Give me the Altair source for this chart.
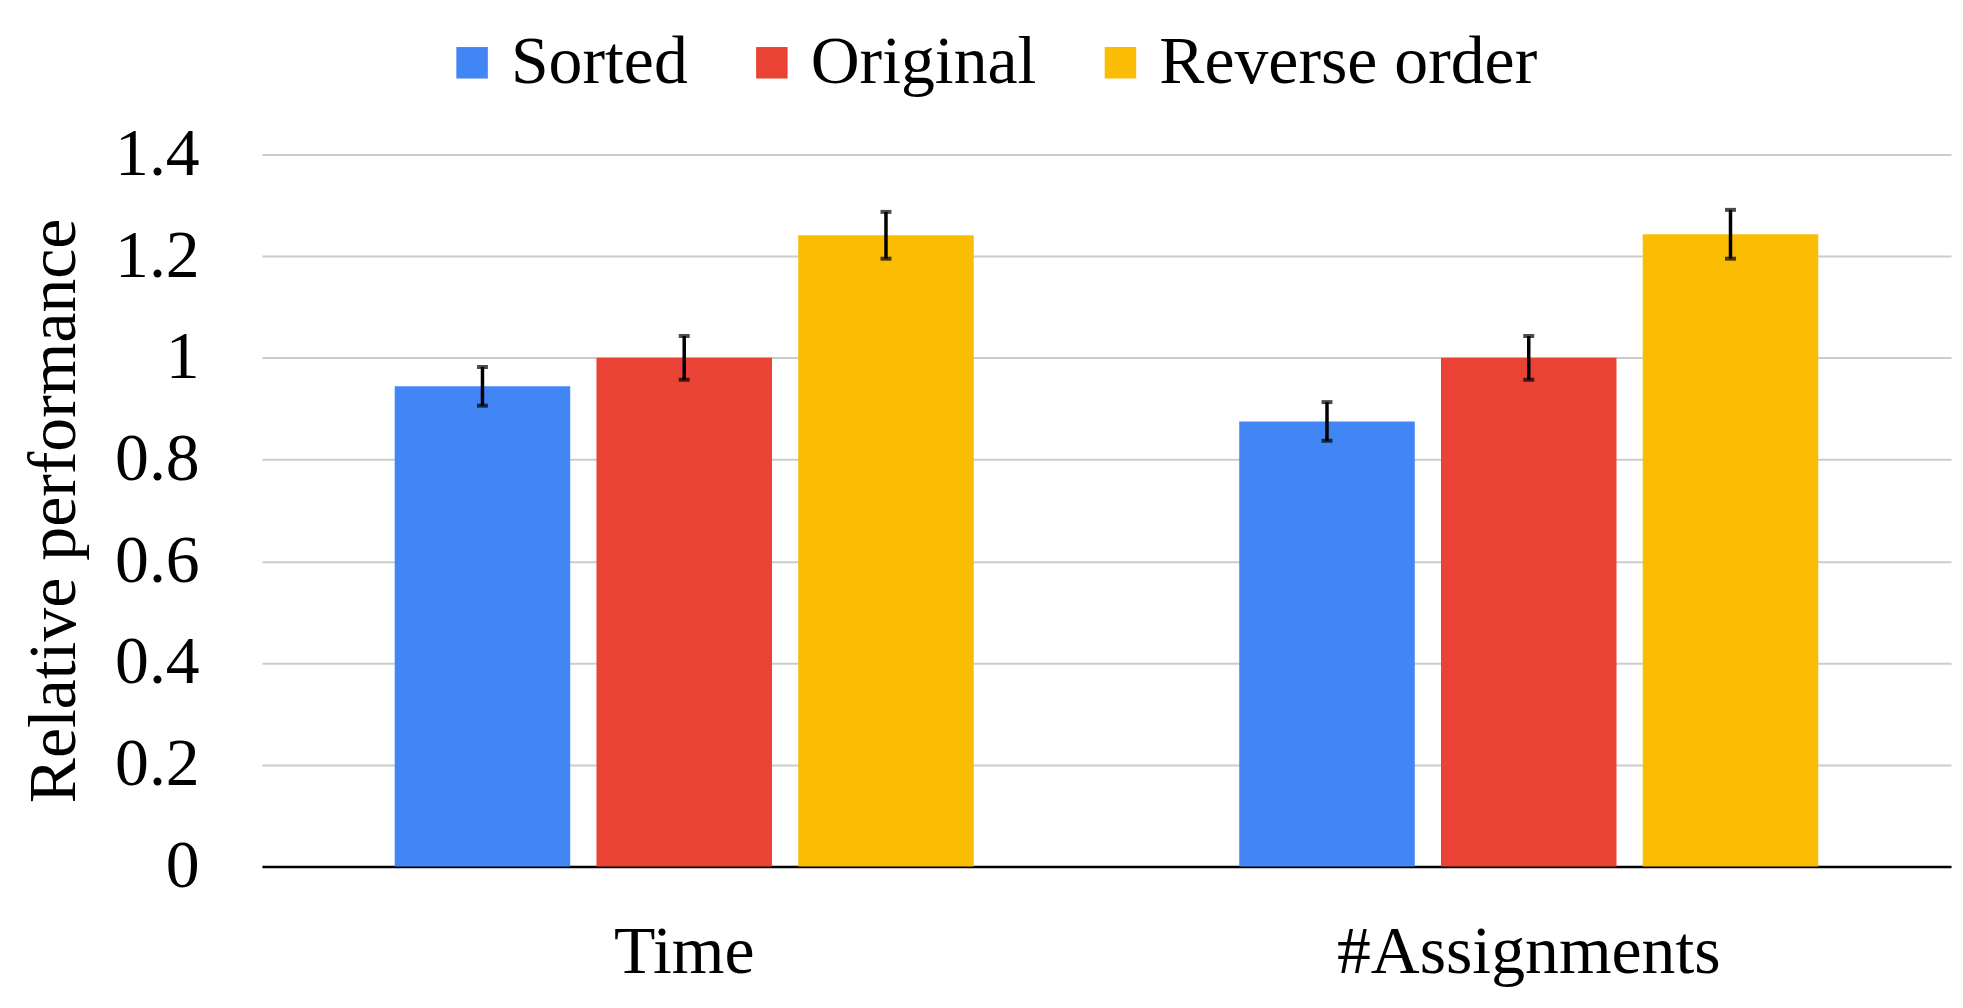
import altair as alt
import pandas as pd

categories = ["Time", "#Assignments"]
series = ["Sorted", "Original", "Reverse order"]
colors = ["#4285F4", "#EA4335", "#FBBC04"]

time_values = [0.944, 1.0, 1.241]
time_errors = [0.038, 0.043, 0.046]
assign_values = [0.875, 1.0, 1.243]
assign_errors = [0.038, 0.043, 0.048]

rows = []
for cat, vals, errs in [("Time", time_values, time_errors), ("#Assignments", assign_values, assign_errors)]:
    for s, v, e in zip(series, vals, errs):
        rows.append({"category": cat, "series": s, "value": v, "lo": v - e, "hi": v + e})
df = pd.DataFrame(rows)

FONT = "Liberation Serif"

x_enc = alt.X("category:N", sort=categories, title=None,
              scale=alt.Scale(paddingInner=0, paddingOuter=0),
              axis=alt.Axis(labelAngle=0, labelFontSize=68, labelFont=FONT, labelColor="black",
                            labelPadding=52, labelLimit=0, ticks=False, domain=True,
                            domainColor="black", domainWidth=2.5, grid=False))
xoff = alt.XOffset("series:N", sort=series,
                   scale=alt.Scale(paddingInner=0.13, paddingOuter=0.658))

y_scale = alt.Scale(domain=[0, 1.4], nice=False)

bars = alt.Chart(df).mark_bar().encode(
    x=x_enc,
    xOffset=xoff,
    y=alt.Y("value:Q", scale=y_scale, title="Relative performance",
            axis=alt.Axis(values=[0, 0.2, 0.4, 0.6, 0.8, 1, 1.2, 1.4], format="~g",
                          labelFontSize=68, labelFont=FONT, labelColor="black",
                          labelPadding=63, labelLimit=0, ticks=False, domain=False,
                          gridColor="#cccccc", gridWidth=2,
                          titleFontSize=68, titleFont=FONT, titleFontWeight="normal",
                          titleColor="black", titlePadding=26)),
    color=alt.Color("series:N", sort=series,
                    scale=alt.Scale(domain=series, range=colors),
                    legend=alt.Legend(title=None, orient="none", direction="horizontal",
                                      legendX=177, legendY=-126,
                                      symbolType="square", symbolSize=1000,
                                      symbolStrokeWidth=0, labelFontSize=68,
                                      labelFont=FONT, labelColor="black", labelLimit=0,
                                      labelOffset=5, columnPadding=50)),
)

rules = alt.Chart(df).mark_rule(color="black", strokeWidth=3.5).encode(
    x=alt.X("category:N", sort=categories),
    xOffset=alt.XOffset("series:N", sort=series),
    y=alt.Y("lo:Q", scale=y_scale),
    y2="hi:Q",
)

cap_lo = alt.Chart(df).mark_tick(color="black", thickness=4, size=11, orient="horizontal").encode(
    x=alt.X("category:N", sort=categories),
    xOffset=alt.XOffset("series:N", sort=series),
    y=alt.Y("lo:Q", scale=y_scale),
)
cap_hi = alt.Chart(df).mark_tick(color="black", thickness=4, size=11, orient="horizontal").encode(
    x=alt.X("category:N", sort=categories),
    xOffset=alt.XOffset("series:N", sort=series),
    y=alt.Y("hi:Q", scale=y_scale),
)

chart = alt.layer(bars, rules, cap_lo, cap_hi).properties(
    width=1696, height=715,
    background="white",
    autosize=alt.AutoSizeParams(type="none"),
    padding={"left": 255, "top": 145, "right": 4, "bottom": 120},
).configure_view(stroke=None)

chart.save("out.html", embed_options={"renderer": "svg", "actions": False})
